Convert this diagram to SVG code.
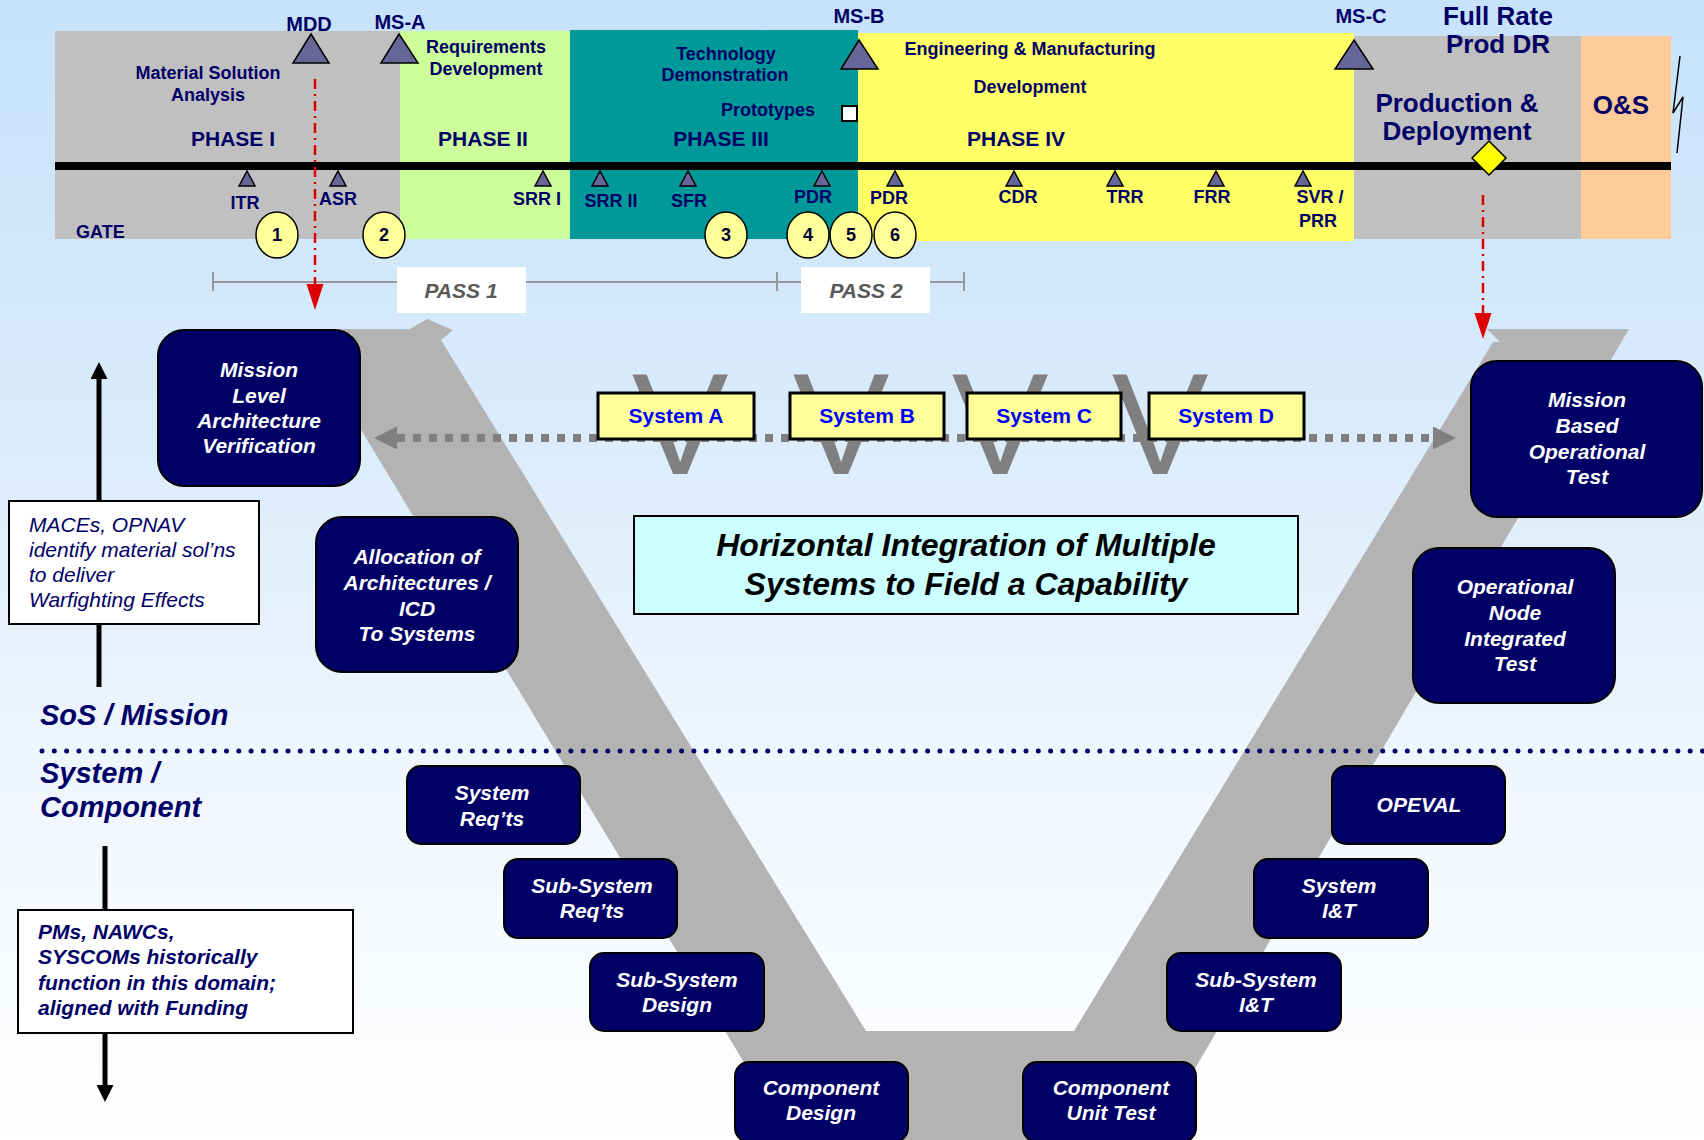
<svg xmlns="http://www.w3.org/2000/svg" width="1704" height="1140" viewBox="0 0 1704 1140">
<defs>
<linearGradient id="bg" x1="0" y1="0" x2="0" y2="1">
<stop offset="0" stop-color="#c6e2fa"/>
<stop offset="0.35" stop-color="#d8ebfb"/>
<stop offset="0.65" stop-color="#eef5fd"/>
<stop offset="1" stop-color="#ffffff"/>
</linearGradient>
<marker id="grayHead" markerUnits="userSpaceOnUse" markerWidth="24" markerHeight="24" refX="0" refY="11.5" orient="auto-start-reverse">
<path d="M0,0 L23,11.5 L0,23 z" fill="#808080"/>
</marker>
<marker id="redHead" markerUnits="userSpaceOnUse" markerWidth="27" markerHeight="18" refX="0" refY="8.5" orient="auto">
<path d="M0,0 L26,8.5 L0,17 z" fill="#dd0000"/>
</marker>
<marker id="blackHead" markerUnits="userSpaceOnUse" markerWidth="18" markerHeight="18" refX="0" refY="8.5" orient="auto">
<path d="M0,0 L17,8.5 L0,17 z" fill="#000"/>
</marker>
<style>
text{font-family:"Liberation Sans",Arial,sans-serif}
.top{fill:#000066;font-weight:bold;font-size:18px;text-anchor:middle}
.ms{fill:#000066;font-weight:bold;font-size:20px;text-anchor:middle}
.big{fill:#000066;font-weight:bold;font-size:26px;text-anchor:middle}
.ph{fill:#000066;font-weight:bold;font-size:21px;text-anchor:middle}
.tri{fill:#666699;stroke:#000;stroke-width:1.5}
.circ{fill:#ffff99;stroke:#000;stroke-width:1.5}
.num{fill:#000033;font-weight:bold;font-size:18px;text-anchor:middle}
.pass{fill:#595959;font-weight:bold;font-style:italic;font-size:21px;text-anchor:middle}
.navy{fill:#000066;stroke:#000;stroke-width:2}
.nt{fill:#fff;font-weight:bold;font-style:italic;font-size:21px;text-anchor:middle}
.note{fill:#fff;stroke:#000;stroke-width:2}
.sys{fill:#ffff99;stroke:#000;stroke-width:3}
.st{fill:#0000ff;font-weight:bold;font-size:21px;text-anchor:middle}
.vl{fill:#808080;font-size:145px;text-anchor:middle}
.lbl{fill:#000066;font-weight:bold;font-style:italic;font-size:29px}
.red{stroke:#dd0000;stroke-width:2.5;stroke-dasharray:10 5 2 5;fill:none}
</style>
</defs>

<rect x="0" y="0" width="1704" height="1140" fill="url(#bg)"/>

<!-- Phase bands -->
<g id="phase-bands">
<rect x="55" y="31" width="345" height="208" fill="#c0c0c0"/>
<rect x="400" y="31" width="170" height="208" fill="#ccff99"/>
<rect x="570" y="30" width="288" height="209" fill="#009999"/>
<rect x="858" y="33" width="496" height="208" fill="#ffff66"/>
<rect x="1354" y="36" width="227" height="203" fill="#c0c0c0"/>
<rect x="1581" y="36" width="90" height="203" fill="#ffcc99"/>
<polyline points="1680,56 1673,113 1683,97 1677,153" fill="none" stroke="#000" stroke-width="1.5"/>
</g>

<g id="phase-texts">
<text class="top" x="208" y="79">Material Solution</text>
<text class="top" x="208" y="101">Analysis</text>
<text class="ph" x="233" y="146">PHASE I</text>
<text class="top" x="486" y="53">Requirements</text>
<text class="top" x="486" y="75">Development</text>
<text class="ph" x="483" y="146">PHASE II</text>
<text class="top" x="726" y="60">Technology</text>
<text class="top" x="725" y="81">Demonstration</text>
<text class="top" x="768" y="116">Prototypes</text>
<rect x="842" y="106" width="15" height="15" fill="#fff" stroke="#000" stroke-width="2"/>
<text class="ph" x="721" y="146">PHASE III</text>
<text class="top" x="1030" y="55">Engineering &amp; Manufacturing</text>
<text class="top" x="1030" y="93">Development</text>
<text class="ph" x="1016" y="146">PHASE IV</text>
<text class="big" x="1457" y="112">Production &amp;</text>
<text class="big" x="1457" y="140">Deployment</text>
<text class="big" x="1621" y="114">O&amp;S</text>
<text class="top" x="76" y="238" style="text-anchor:start">GATE</text>
</g>

<!-- Timeline -->
<g id="timeline">
<rect x="55" y="162" width="1616" height="8" fill="#000"/>
</g>

<g id="milestones">
<polygon class="tri" points="311,34 329,63 293,63"/>
<text class="ms" x="309" y="31">MDD</text>
<polygon class="tri" points="399,34 418,63 381,63"/>
<text class="ms" x="400" y="29">MS-A</text>
<polygon class="tri" points="859,40 878,69 841,69"/>
<text class="ms" x="859" y="23">MS-B</text>
<polygon class="tri" points="1354,40 1373,69 1335,69"/>
<text class="ms" x="1361" y="23">MS-C</text>
<text class="big" x="1498" y="25">Full Rate</text>
<text class="big" x="1498" y="53">Prod DR</text>
<polygon points="1489,141 1506,158 1489,175 1472,158" fill="#ffff00" stroke="#000" stroke-width="1.5"/>
</g>

<g id="reviews">
<polygon class="tri" points="247,171 255,186 239,186"/><text class="top" x="245" y="209">ITR</text>
<polygon class="tri" points="338,171 346,186 330,186"/><text class="top" x="338" y="205">ASR</text>
<polygon class="tri" points="543,171 551,186 535,186"/><text class="top" x="537" y="205">SRR I</text>
<polygon class="tri" points="600,171 608,186 592,186"/><text class="top" x="611" y="207">SRR II</text>
<polygon class="tri" points="688,171 696,186 680,186"/><text class="top" x="689" y="207">SFR</text>
<polygon class="tri" points="822,171 830,186 814,186"/><text class="top" x="813" y="203">PDR</text>
<polygon class="tri" points="895,171 903,186 887,186"/><text class="top" x="889" y="204">PDR</text>
<polygon class="tri" points="1014,171 1022,186 1006,186"/><text class="top" x="1018" y="203">CDR</text>
<polygon class="tri" points="1115,171 1123,186 1107,186"/><text class="top" x="1125" y="203">TRR</text>
<polygon class="tri" points="1216,171 1224,186 1208,186"/><text class="top" x="1212" y="203">FRR</text>
<polygon class="tri" points="1303,171 1311,186 1295,186"/><text class="top" x="1320" y="203">SVR /</text>
<text class="top" x="1318" y="227">PRR</text>
</g>

<g id="gates">
<ellipse class="circ" cx="277" cy="235" rx="21" ry="23"/><text class="num" x="277" y="241">1</text>
<ellipse class="circ" cx="384" cy="235" rx="21" ry="23"/><text class="num" x="384" y="241">2</text>
<ellipse class="circ" cx="726" cy="235" rx="21" ry="23"/><text class="num" x="726" y="241">3</text>
<ellipse class="circ" cx="808" cy="235" rx="21" ry="23"/><text class="num" x="808" y="241">4</text>
<ellipse class="circ" cx="851" cy="235" rx="21" ry="23"/><text class="num" x="851" y="241">5</text>
<ellipse class="circ" cx="895" cy="235" rx="21" ry="23"/><text class="num" x="895" y="241">6</text>
</g>

<g id="passes">
<line x1="213" y1="282" x2="964" y2="282" stroke="#999" stroke-width="2"/>
<line x1="213" y1="272" x2="213" y2="291" stroke="#999" stroke-width="2"/>
<line x1="777" y1="272" x2="777" y2="291" stroke="#999" stroke-width="2"/>
<line x1="964" y1="272" x2="964" y2="291" stroke="#999" stroke-width="2"/>
<rect x="397" y="267" width="129" height="46" fill="#fff"/>
<text class="pass" x="461" y="298">PASS 1</text>
<rect x="801" y="267" width="129" height="46" fill="#fff"/>
<text class="pass" x="866" y="298">PASS 2</text>
</g>

<!-- Big V -->
<g id="v-shape">
<polygon points="300,329 410,329 427,319 453,330 441,340 866,1031 1074,1031 1493,342 1500,342 1487,329 1629,329 1153,1140 791,1140" fill="#b3b3b3"/>
</g>

<!-- Level divider -->
<g id="divider">
<line x1="42" y1="751" x2="1704" y2="751" stroke="#000066" stroke-width="5" stroke-linecap="round" stroke-dasharray="0 12.3"/>
<text class="lbl" x="40" y="725">SoS / Mission</text>
<text class="lbl" x="40" y="783">System /</text>
<text class="lbl" x="40" y="817">Component</text>
</g>

<!-- Small V letters -->
<g id="v-letters">
<text class="vl" x="680" y="474">V</text>
<text class="vl" x="841" y="474">V</text>
<text class="vl" x="1000" y="474">V</text>
<text class="vl" x="1160" y="474">V</text>
</g>

<!-- Connectors -->
<g id="connectors">
<line x1="397" y1="438" x2="1433" y2="438" stroke="#808080" stroke-width="8" stroke-dasharray="8 8" marker-start="url(#grayHead)" marker-end="url(#grayHead)"/>
<line class="red" x1="315" y1="79" x2="315" y2="284" marker-end="url(#redHead)"/>
<line class="red" x1="1483" y1="195" x2="1483" y2="313" marker-end="url(#redHead)"/>
<line x1="99" y1="687" x2="99" y2="379" stroke="#000" stroke-width="5" marker-end="url(#blackHead)"/>
<line x1="105" y1="846" x2="105" y2="1085" stroke="#000" stroke-width="5" marker-end="url(#blackHead)"/>
</g>

<!-- System boxes -->
<g id="system-a"><rect class="sys" x="598" y="393" width="156" height="46"/><text class="st" x="676" y="423">System A</text></g>
<g id="system-b"><rect class="sys" x="790" y="393" width="154" height="46"/><text class="st" x="867" y="423">System B</text></g>
<g id="system-c"><rect class="sys" x="967" y="393" width="154" height="46"/><text class="st" x="1044" y="423">System C</text></g>
<g id="system-d"><rect class="sys" x="1149" y="393" width="155" height="46"/><text class="st" x="1226" y="423">System D</text></g>

<g id="horizontal-integration">
<rect x="634" y="516" width="664" height="98" fill="#ccffff" stroke="#000" stroke-width="2"/>
<text x="966" y="556" font-size="32" font-weight="bold" font-style="italic" text-anchor="middle" fill="#000">Horizontal Integration of Multiple</text>
<text x="966" y="595" font-size="32" font-weight="bold" font-style="italic" text-anchor="middle" fill="#000">Systems to Field a Capability</text>
</g>

<!-- Left notes -->
<g id="note-maces">
<rect class="note" x="9" y="501" width="250" height="123"/>
<text x="29" y="532" font-size="21" font-style="italic" fill="#000066">MACEs, OPNAV</text>
<text x="29" y="557" font-size="21" font-style="italic" fill="#000066">identify material sol’ns</text>
<text x="29" y="582" font-size="21" font-style="italic" fill="#000066">to deliver</text>
<text x="29" y="607" font-size="21" font-style="italic" fill="#000066">Warfighting Effects</text>
</g>
<g id="note-pms">
<rect class="note" x="18" y="910" width="335" height="123"/>
<text x="38" y="939" font-size="21" font-weight="bold" font-style="italic" fill="#000066">PMs, NAWCs,</text>
<text x="38" y="964" font-size="21" font-weight="bold" font-style="italic" fill="#000066">SYSCOMs historically</text>
<text x="38" y="990" font-size="21" font-weight="bold" font-style="italic" fill="#000066">function in this domain;</text>
<text x="38" y="1015" font-size="21" font-weight="bold" font-style="italic" fill="#000066">aligned with Funding</text>
</g>

<!-- Navy nodes -->
<g id="mission-level">
<rect class="navy" x="158" y="330" width="202" height="156" rx="26"/>
<text class="nt" x="259" y="377">Mission</text>
<text class="nt" x="259" y="403">Level</text>
<text class="nt" x="259" y="428">Architecture</text>
<text class="nt" x="259" y="453">Verification</text>
</g>
<g id="allocation">
<rect class="navy" x="316" y="517" width="202" height="155" rx="26"/>
<text class="nt" x="417" y="564">Allocation of</text>
<text class="nt" x="417" y="590">Architectures /</text>
<text class="nt" x="417" y="616">ICD</text>
<text class="nt" x="417" y="641">To Systems</text>
</g>
<g id="mission-based">
<rect class="navy" x="1471" y="361" width="231" height="156" rx="26"/>
<text class="nt" x="1587" y="407">Mission</text>
<text class="nt" x="1587" y="433">Based</text>
<text class="nt" x="1587" y="459">Operational</text>
<text class="nt" x="1587" y="484">Test</text>
</g>
<g id="op-node">
<rect class="navy" x="1413" y="548" width="202" height="155" rx="26"/>
<text class="nt" x="1515" y="594">Operational</text>
<text class="nt" x="1515" y="620">Node</text>
<text class="nt" x="1515" y="646">Integrated</text>
<text class="nt" x="1515" y="671">Test</text>
</g>
<g id="system-reqts">
<rect class="navy" x="407" y="766" width="173" height="78" rx="14"/>
<text class="nt" x="492" y="800">System</text>
<text class="nt" x="492" y="826">Req’ts</text>
</g>
<g id="subsystem-reqts">
<rect class="navy" x="504" y="859" width="173" height="79" rx="14"/>
<text class="nt" x="592" y="893">Sub-System</text>
<text class="nt" x="592" y="918">Req’ts</text>
</g>
<g id="subsystem-design">
<rect class="navy" x="590" y="953" width="174" height="78" rx="14"/>
<text class="nt" x="677" y="987">Sub-System</text>
<text class="nt" x="677" y="1012">Design</text>
</g>
<g id="component-design">
<rect class="navy" x="735" y="1062" width="173" height="80" rx="14"/>
<text class="nt" x="821" y="1095">Component</text>
<text class="nt" x="821" y="1120">Design</text>
</g>
<g id="component-unit-test">
<rect class="navy" x="1023" y="1062" width="173" height="80" rx="14"/>
<text class="nt" x="1111" y="1095">Component</text>
<text class="nt" x="1111" y="1120">Unit Test</text>
</g>
<g id="subsystem-it">
<rect class="navy" x="1167" y="953" width="174" height="78" rx="14"/>
<text class="nt" x="1256" y="987">Sub-System</text>
<text class="nt" x="1256" y="1012">I&amp;T</text>
</g>
<g id="system-it">
<rect class="navy" x="1254" y="859" width="174" height="79" rx="14"/>
<text class="nt" x="1339" y="893">System</text>
<text class="nt" x="1339" y="918">I&amp;T</text>
</g>
<g id="opeval">
<rect class="navy" x="1332" y="766" width="173" height="78" rx="14"/>
<text class="nt" x="1419" y="812">OPEVAL</text>
</g>
</svg>
